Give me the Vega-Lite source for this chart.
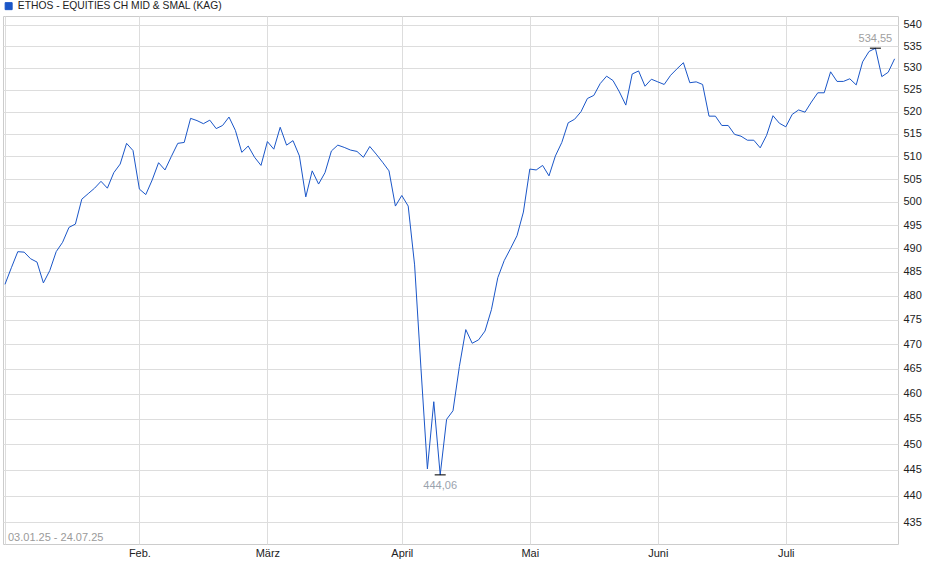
{
  "$schema": "https://vega.github.io/schema/vega-lite/v6.json",
  "autosize": {"type": "none"},
  "width": 895,
  "height": 528,
  "padding": {"left": 3, "top": 16, "right": 42, "bottom": 35},
  "background": "#ffffff",
  "config": {
    "font": "Liberation Sans",
    "view": {"stroke": "#cccccc", "strokeWidth": 1},
    "axis": {"gridColor": "#dddddd", "gridWidth": 1, "domain": false, "ticks": false, "labelFont": "Liberation Sans", "labelFontSize": 11, "labelColor": "#222222"}
  },
  "datasets": {
    "series": [
      {"i":0,"v":482.4},{"i":1,"v":485.9},{"i":2,"v":489.3},{"i":3,"v":489.2},{"i":4,"v":487.8},
      {"i":5,"v":487.1},{"i":6,"v":482.7},{"i":7,"v":485.3},{"i":8,"v":489.3},{"i":9,"v":491.3},
      {"i":10,"v":494.5},{"i":11,"v":495.2},{"i":12,"v":500.6},{"i":13,"v":501.8},{"i":14,"v":503.0},
      {"i":15,"v":504.5},{"i":16,"v":503.0},{"i":17,"v":506.4},{"i":18,"v":508.3},{"i":19,"v":512.9},
      {"i":20,"v":511.3},{"i":21,"v":502.8},{"i":22,"v":501.6},{"i":23,"v":504.8},{"i":24,"v":508.6},
      {"i":25,"v":507.0},{"i":26,"v":510.0},{"i":27,"v":512.9},{"i":28,"v":513.1},{"i":29,"v":518.5},
      {"i":30,"v":518.0},{"i":31,"v":517.3},{"i":32,"v":518.1},{"i":33,"v":516.2},{"i":34,"v":516.9},
      {"i":35,"v":518.8},{"i":36,"v":515.8},{"i":37,"v":510.9},{"i":38,"v":512.3},{"i":39,"v":509.8},
      {"i":40,"v":508.0},{"i":41,"v":513.3},{"i":42,"v":511.6},{"i":43,"v":516.5},{"i":44,"v":512.5},
      {"i":45,"v":513.5},{"i":46,"v":510.1},{"i":47,"v":501.1},{"i":48,"v":506.8},{"i":49,"v":503.9},
      {"i":50,"v":506.4},{"i":51,"v":511.2},{"i":52,"v":512.5},{"i":53,"v":512.0},{"i":54,"v":511.4},
      {"i":55,"v":511.1},{"i":56,"v":509.8},{"i":57,"v":512.2},{"i":58,"v":510.5},{"i":59,"v":508.7},
      {"i":60,"v":506.8},{"i":61,"v":499.1},{"i":62,"v":501.4},{"i":63,"v":499.1},{"i":64,"v":486.5},
      {"i":65,"v":465.0},{"i":66,"v":445.2},{"i":67,"v":458.4},{"i":68,"v":444.06},{"i":69,"v":454.9},
      {"i":70,"v":456.6},{"i":71,"v":465.5},{"i":72,"v":473.0},{"i":73,"v":470.2},{"i":74,"v":470.9},
      {"i":75,"v":472.7},{"i":76,"v":477.1},{"i":77,"v":483.8},{"i":78,"v":487.4},{"i":79,"v":490.0},
      {"i":80,"v":492.7},{"i":81,"v":497.8},{"i":82,"v":507.2},{"i":83,"v":507.0},{"i":84,"v":508.0},
      {"i":85,"v":505.7},{"i":86,"v":510.1},{"i":87,"v":513.1},{"i":88,"v":517.5},{"i":89,"v":518.3},
      {"i":90,"v":520.0},{"i":91,"v":523.0},{"i":92,"v":523.7},{"i":93,"v":526.4},{"i":94,"v":528.1},
      {"i":95,"v":527.1},{"i":96,"v":524.5},{"i":97,"v":521.5},{"i":98,"v":528.6},{"i":99,"v":529.3},
      {"i":100,"v":525.8},{"i":101,"v":527.4},{"i":102,"v":526.8},{"i":103,"v":526.2},{"i":104,"v":528.3},
      {"i":105,"v":529.8},{"i":106,"v":531.2},{"i":107,"v":526.6},{"i":108,"v":526.8},{"i":109,"v":526.2},
      {"i":110,"v":519.0},{"i":111,"v":519.0},{"i":112,"v":516.9},{"i":113,"v":516.9},{"i":114,"v":514.9},
      {"i":115,"v":514.5},{"i":116,"v":513.6},{"i":117,"v":513.6},{"i":118,"v":511.9},{"i":119,"v":514.7},
      {"i":120,"v":519.1},{"i":121,"v":517.4},{"i":122,"v":516.6},{"i":123,"v":519.4},{"i":124,"v":520.4},
      {"i":125,"v":519.9},{"i":126,"v":522.2},{"i":127,"v":524.3},{"i":128,"v":524.3},{"i":129,"v":529.1},
      {"i":130,"v":526.9},{"i":131,"v":526.9},{"i":132,"v":527.5},{"i":133,"v":526.1},{"i":134,"v":531.4},
      {"i":135,"v":533.8},{"i":136,"v":534.55},{"i":137,"v":528.0},{"i":138,"v":529.0},{"i":139,"v":532.1}
    ],
    "extremes": [
      {"i":136,"v":534.55,"kind":"max","label":"534,55"},
      {"i":68,"v":444.06,"kind":"min","label":"444,06"}
    ]
  },
  "layer": [
    {
      "data": {"name": "series"},
      "mark": {"type": "line", "strokeWidth": 1, "interpolate": "linear"},
      "encoding": {
        "x": {
          "field": "i", "type": "quantitative",
          "scale": {"domain": [-0.31, 139.53], "nice": false, "zero": false},
          "axis": {
            "title": null, "orient": "bottom", "grid": true,
            "values": [0, 21, 41, 62, 82, 102, 122],
            "labelPadding": 3, "labelBaseline": "top",
            "labelExpr": "datum.value == 21 ? 'Feb.' : datum.value == 41 ? 'März' : datum.value == 62 ? 'April' : datum.value == 82 ? 'Mai' : datum.value == 102 ? 'Juni' : datum.value == 122 ? 'Juli' : ''"
          }
        },
        "y": {
          "field": "v", "type": "quantitative",
          "scale": {"type": "log", "domain": [430.9, 542.1], "nice": false, "zero": false},
          "axis": {
            "title": null, "orient": "right", "grid": true,
            "values": [435,440,445,450,455,460,465,470,475,480,485,490,495,500,505,510,515,520,525,530,535,540],
            "labelPadding": 5, "labelAlign": "left"
          }
        },
        "color": {
          "datum": "ETHOS - EQUITIES CH MID & SMAL (KAG)",
          "type": "nominal",
          "scale": {"range": ["#1a56c8"]},
          "legend": {
            "title": null, "orient": "none", "legendX": 0.5, "legendY": -15,
            "symbolType": "square", "symbolSize": 49,
            "symbolFillColor": "#1a56c8", "symbolStrokeColor": "#1c3c7c", "symbolStrokeWidth": 1,
            "labelFont": "Liberation Sans", "labelFontSize": 10.3, "labelColor": "#222222",
            "labelOffset": 4, "labelLimit": 0, "padding": 0
          }
        }
      }
    },
    {
      "data": {"name": "extremes"},
      "mark": {"type": "tick", "orient": "horizontal", "size": 11, "thickness": 1.5, "color": "#000000"},
      "encoding": {
        "x": {"field": "i", "type": "quantitative"},
        "y": {"field": "v", "type": "quantitative"}
      }
    },
    {
      "data": {"name": "extremes"},
      "transform": [{"filter": "datum.kind == 'max'"}],
      "mark": {"type": "text", "align": "center", "baseline": "bottom", "dy": -4, "fontSize": 11, "color": "#a0a0a0", "font": "Liberation Sans"},
      "encoding": {
        "x": {"field": "i", "type": "quantitative"},
        "y": {"field": "v", "type": "quantitative"},
        "text": {"field": "label"}
      }
    },
    {
      "data": {"name": "extremes"},
      "transform": [{"filter": "datum.kind == 'min'"}],
      "mark": {"type": "text", "align": "center", "baseline": "top", "dy": 5, "fontSize": 11, "color": "#9aa2ad", "font": "Liberation Sans"},
      "encoding": {
        "x": {"field": "i", "type": "quantitative"},
        "y": {"field": "v", "type": "quantitative"},
        "text": {"field": "label"}
      }
    },
    {
      "data": {"values": [{"text": "03.01.25 - 24.07.25"}]},
      "mark": {"type": "text", "align": "left", "baseline": "bottom", "dx": 3, "dy": -1, "fontSize": 11, "color": "#9a9a9a", "font": "Liberation Sans"},
      "encoding": {
        "x": {"datum": 0, "type": "quantitative"},
        "y": {"datum": 430.9, "type": "quantitative"},
        "text": {"field": "text"}
      }
    }
  ]
}
